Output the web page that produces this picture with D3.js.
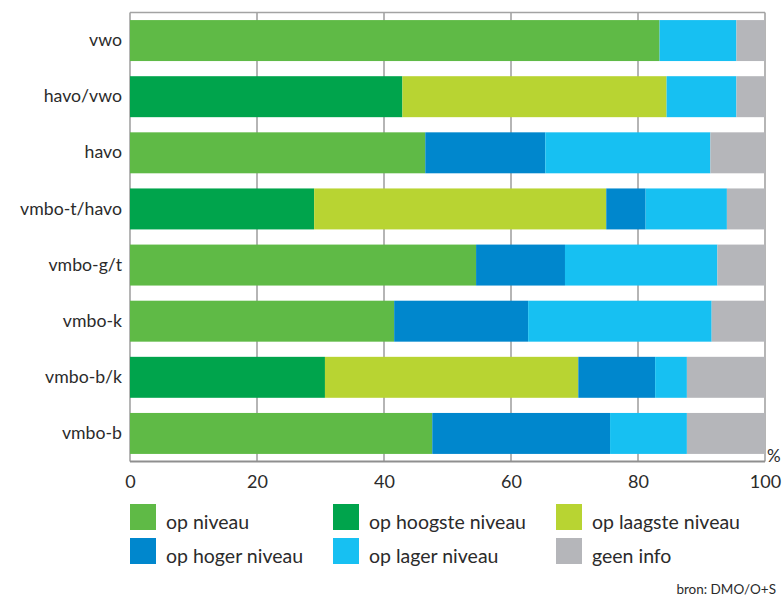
<!DOCTYPE html>
<html>
<head>
<meta charset="utf-8">
<script src="https://cdn.jsdelivr.net/npm/d3@7"></script>
<style>
  html, body { margin: 0; padding: 0; background: #fff; }
  svg text { font-family: Lato, "Open Sans", sans-serif; fill: #2b2b2b; }
</style>
</head>
<body>
<svg id="chart" width="782" height="601"></svg>
<script>
// Data
const categories = ["vwo", "havo/vwo", "havo", "vmbo-t/havo", "vmbo-g/t", "vmbo-k", "vmbo-b/k", "vmbo-b"];
const seriesNames = ["op niveau", "op hoogste niveau", "op laagste niveau", "op hoger niveau", "op lager niveau", "geen info"];
const opNiveau        = [83.4, 0,    46.5, 0,    54.5, 41.6, 0,    47.6];
const opHoogsteNiveau = [0,    42.9, 0,    29.0, 0,    0,    30.7, 0];
const opLaagsteNiveau = [0,    41.6, 0,    46.0, 0,    0,    39.9, 0];
const opHogerNiveau   = [0,    0,    18.9, 6.2,  14.0, 21.1, 12.1, 28.0];
const opLagerNiveau   = [12.1, 11.0, 26.0, 12.8, 24.0, 28.9, 5.0,  12.1];
const geenInfo        = [4.5,  4.5,  8.6,  6.0,  7.5,  8.4,  12.3, 12.3];
const xTicks = [0, 20, 40, 60, 80, 100];
const colors = ["#5fba46", "#00a44c", "#b8d432", "#0087cd", "#17c0f2", "#b5b6ba"];

const seriesValues = [opNiveau, opHoogsteNiveau, opLaagsteNiveau, opHogerNiveau, opLagerNiveau, geenInfo];
const rows = categories.map((c, i) => {
  const r = { cat: c };
  seriesNames.forEach((s, j) => r[s] = seriesValues[j][i]);
  return r;
});
const stacked = d3.stack().keys(seriesNames)(rows);

const svg = d3.select("#chart");
const mLeft = 130, mRight = 765, mTop = 12.5, mBottom = 461.5;

const x = d3.scaleLinear().domain([0, 100]).range([mLeft, mRight]);
const y = d3.scaleBand().domain(categories).range([mTop, mBottom]).paddingInner(0.27).paddingOuter(0.135);
const color = d3.scaleOrdinal().domain(seriesNames).range(colors);

// grid
svg.append("g").selectAll("line").data(xTicks).join("line")
  .attr("x1", d => x(d)).attr("x2", d => x(d))
  .attr("y1", mTop).attr("y2", mBottom)
  .attr("stroke", "#a3a3a3").attr("stroke-width", 1.6);
svg.append("line").attr("x1", mLeft).attr("x2", mRight).attr("y1", mTop).attr("y2", mTop)
  .attr("stroke", "#a3a3a3").attr("stroke-width", 1.6);

// bars
svg.append("g").selectAll("g").data(stacked).join("g")
  .attr("fill", d => color(d.key))
  .selectAll("rect").data(d => d).join("rect")
  .attr("x", d => x(d[0]))
  .attr("width", d => Math.max(0, x(d[1]) - x(d[0])))
  .attr("y", d => y(d.data.cat))
  .attr("height", y.bandwidth());

// bottom axis line
svg.append("line").attr("x1", mLeft).attr("x2", mRight).attr("y1", mBottom).attr("y2", mBottom)
  .attr("stroke", "#8f8f8f").attr("stroke-width", 2);

// x axis
const xAxis = d3.axisBottom(x).tickValues(xTicks).tickSize(0).tickPadding(0).tickFormat(d3.format("d"));
const gx = svg.append("g").attr("transform", `translate(0,${mBottom})`).call(xAxis);
gx.select(".domain").remove();
gx.selectAll("text").attr("y", 26).attr("dy", 0).style("font-size", "18px").attr("fill", "#2b2b2b");
svg.append("text").attr("x", 767).attr("y", 462).style("font-size", "17px").text("%");

// y axis labels
const yAxis = d3.axisLeft(y).tickSize(0).tickPadding(8);
const gy = svg.append("g").attr("transform", `translate(${mLeft},0)`).call(yAxis);
gy.select(".domain").remove();
gy.selectAll("text").style("font-size", "17.7px").attr("fill", "#2b2b2b");

// legend
const legX = [130, 333, 556];
const legY = [504, 538];
const leg = svg.append("g").selectAll("g").data(seriesNames).join("g")
  .attr("transform", (d, i) => `translate(${legX[i % 3]},${legY[Math.floor(i / 3)]})`);
leg.append("rect").attr("width", 26).attr("height", 26).attr("fill", d => color(d));
leg.append("text").attr("x", 36).attr("y", 25).style("font-size", "19.5px").text(d => d);

svg.append("text").attr("x", 776).attr("y", 594).attr("text-anchor", "end")
  .style("font-size", "13.5px").text("bron: DMO/O+S");
</script>
</body>
</html>
